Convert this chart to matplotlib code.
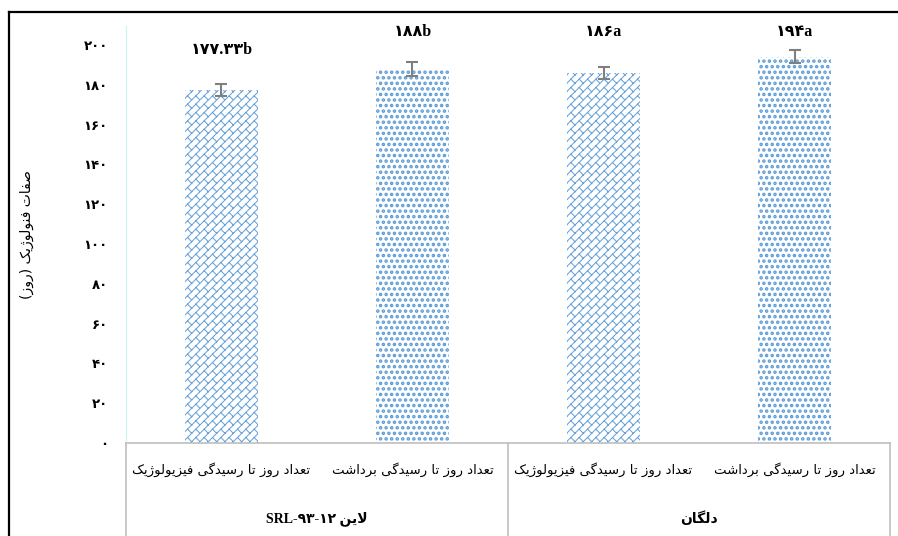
import warnings
import numpy as np
import matplotlib
matplotlib.use("Agg")
import matplotlib.pyplot as plt
from matplotlib import hatch as mhatch
from matplotlib.lines import Line2D
from matplotlib.path import Path

# data
groups = ["لاین SRL-۹۳-۱۲", "دلگان"]
traits = ["تعداد روز تا رسیدگی فیزیولوژیک", "تعداد روز تا رسیدگی برداشت"]
values = [177.33, 188, 186, 194]
errors = [3.2, 3.5, 3.0, 3.2]
letters = ["b", "b", "a", "a"]
ylabel = "صفات فنولوژیک (روز)"
yticks = [0, 20, 40, 60, 80, 100, 120, 140, 160, 180, 200]

BLUE = "#5b9bd5"


# --- persian text: contextual forms + right-to-left order (matplotlib does no shaping)
FORMS = {  # isolated, final, initial, medial
    "ا": ("\ufe8d", "\ufe8e", None, None),
    "ب": ("\ufe8f", "\ufe90", "\ufe91", "\ufe92"),
    "ت": ("\ufe95", "\ufe96", "\ufe97", "\ufe98"),
    "د": ("\ufea9", "\ufeaa", None, None),
    "ر": ("\ufead", "\ufeae", None, None),
    "ز": ("\ufeaf", "\ufeb0", None, None),
    "ژ": ("\ufb8a", "\ufb8b", None, None),
    "س": ("\ufeb1", "\ufeb2", "\ufeb3", "\ufeb4"),
    "ش": ("\ufeb5", "\ufeb6", "\ufeb7", "\ufeb8"),
    "ص": ("\ufeb9", "\ufeba", "\ufebb", "\ufebc"),
    "ع": ("\ufec9", "\ufeca", "\ufecb", "\ufecc"),
    "ف": ("\ufed1", "\ufed2", "\ufed3", "\ufed4"),
    "ک": ("\ufb8e", "\ufb8f", "\ufb90", "\ufb91"),
    "گ": ("\ufb92", "\ufb93", "\ufb94", "\ufb95"),
    "ل": ("\ufedd", "\ufede", "\ufedf", "\ufee0"),
    "ن": ("\ufee5", "\ufee6", "\ufee7", "\ufee8"),
    "و": ("\ufeed", "\ufeee", None, None),
    "ی": ("\ufbfc", "\ufbfd", "\ufbfe", "\ufbff"),
}
LAM_ALEF = ("\ufefb", "\ufefc")


def shape(word):
    out = []
    i = 0
    while i < len(word):
        c = word[i]
        if c not in FORMS:
            out.append(c)
            i += 1
            continue
        prev = word[i - 1] if i > 0 else ""
        joins_prev = prev in FORMS and FORMS[prev][2] is not None
        if c == "ل" and i + 1 < len(word) and word[i + 1] == "ا":
            out.append(LAM_ALEF[joins_prev])
            i += 2
            continue
        nxt = word[i + 1] if i + 1 < len(word) else ""
        joins_next = nxt in FORMS and FORMS[c][2] is not None
        iso, fin, ini, med = FORMS[c]
        if joins_prev and joins_next:
            out.append(med)
        elif joins_prev:
            out.append(fin)
        elif joins_next:
            out.append(ini)
        else:
            out.append(iso)
        i += 1
    return out


def fa(text):
    words = []
    for w in text.split(" "):
        if any(ch in FORMS for ch in w):
            s = "".join(reversed(shape(w)))
            s = s.translate(str.maketrans("()", ")("))
        else:
            s = w
        words.append(s)
    return " ".join(reversed(words))


def fa_num(s):
    return s.translate(str.maketrans("0123456789", "۰۱۲۳۴۵۶۷۸۹"))


# --- diagonal brick hatch ('k'): '/' rows with staggered short '\' joints
class BrickHatch(mhatch.HatchPatternBase):
    def __init__(self, hatch, density):
        self.num_tiles = int(hatch.count("k") * density)
        self.num_vertices = self.num_tiles ** 2 * 4

    def set_vertices_and_codes(self, vertices, codes):
        n = self.num_tiles
        t = 1.0 / n
        k = 0
        for i in range(n):
            for j in range(n):
                x0, y0 = i * t, j * t
                vertices[k:k + 4] = [(x0, y0), (x0 + t, y0 + t),
                                     (x0 + t / 2, y0 + t / 2), (x0 + t, y0)]
                codes[k:k + 4] = [Path.MOVETO, Path.LINETO, Path.MOVETO, Path.LINETO]
                k += 4


mhatch._hatch_types.append(BrickHatch)
warnings.filterwarnings("ignore", message=".*hatch must consist.*")

fig = plt.figure(figsize=(8.98, 5.36), dpi=100)
ax = fig.add_axes([0.1403, 0.1735, 0.8508, 0.778])

x = np.arange(len(values))
# odd bars get the brick fill, even ones the dotted fill
brick = x % 2 == 0
with plt.rc_context({"hatch.linewidth": 0.75}):
    ax.bar(x[brick], np.array(values)[brick], width=0.38, color="white",
           edgecolor="#6aa3d9", linewidth=0, hatch="kk")
with plt.rc_context({"hatch.linewidth": 1.7}):
    ax.bar(x[~brick], np.array(values)[~brick], width=0.38, color="white",
           edgecolor=BLUE, linewidth=0, hatch="...")
ax.errorbar(x, values, yerr=errors, fmt="none", ecolor="#7f7f7f", elinewidth=1.5,
            capsize=4, capthick=1.5)

# significance labels
label_y = [197.5, 206.5, 206.5, 206.5]
for xi, v, l, ly in zip(x, values, letters, label_y):
    ax.text(xi, ly, fa_num(f"{v:g}") + l, ha="center", va="center", fontsize=11.5,
            fontweight="bold", family=["Liberation Serif", "DejaVu Sans"])

ax.set_xlim(-0.5, len(values) - 0.5)
ax.set_ylim(0, 209.5)
ax.set_yticks(yticks)
ax.set_yticklabels([fa_num(str(t)) for t in yticks], fontsize=9.5, fontweight="bold",
                   family="DejaVu Sans")
ax.tick_params(axis="y", length=0, pad=13)
ax.set_xticks([])
for s in ["top", "right"]:
    ax.spines[s].set_visible(False)
ax.spines["left"].set_color("#cdf3f6")
ax.spines["bottom"].set_color("#bfbfbf")
ax.spines["bottom"].set_linewidth(1.2)

ax.set_ylabel(fa(ylabel), fontsize=10, family="DejaVu Sans", labelpad=36)

# two-level category axis
trans = ax.get_xaxis_transform()
for i, xi in enumerate(x):
    ax.text(xi, -0.065, fa(traits[i % len(traits)]), ha="center", va="center",
            fontsize=9.5, family="DejaVu Sans", transform=trans)
per_group = len(traits)
bounds = np.arange(len(groups) + 1) * per_group - 0.5
for gx in bounds:
    ax.plot([gx, gx], [0, -0.23], transform=trans, color="#bfbfbf", lw=1.2, clip_on=False)
for g, name in enumerate(groups):
    ax.text((bounds[g] + bounds[g + 1]) / 2, -0.182, fa(name), ha="center", va="center",
            fontsize=10, fontweight="bold", family=["Liberation Serif", "DejaVu Sans"],
            transform=trans)

# outer frame
fig.add_artist(Line2D([9 / 898, 1], [1 - 12 / 536] * 2, transform=fig.transFigure,
                      color="black", lw=1.6))
fig.add_artist(Line2D([9 / 898] * 2, [0, 1 - 12 / 536], transform=fig.transFigure,
                      color="black", lw=1.6))

fig.savefig("out.png", dpi=100)
